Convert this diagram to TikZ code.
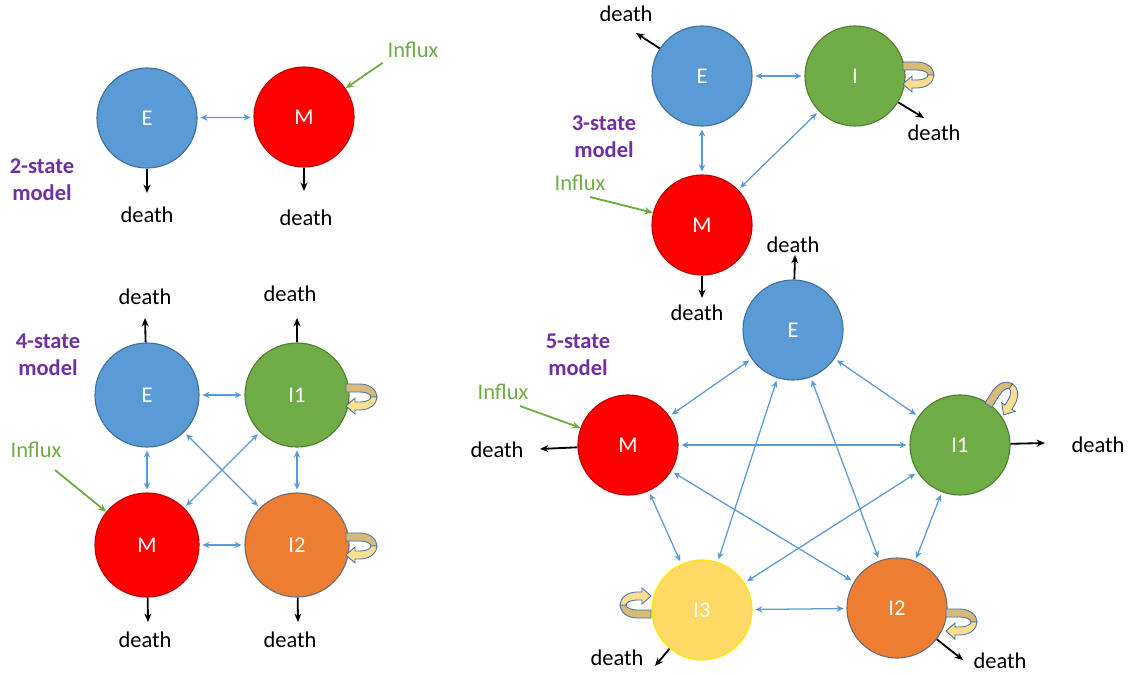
\documentclass[tikz,border=0pt]{standalone}
\usepackage{fontspec}
\setmainfont{Carlito}
\usetikzlibrary{arrows.meta}
\definecolor{eblue}{RGB}{91,155,213}
\definecolor{eline}{RGB}{65,113,156}
\definecolor{mred}{RGB}{255,0,0}
\definecolor{mline}{RGB}{192,0,0}
\definecolor{igreen}{RGB}{112,173,71}
\definecolor{iline}{RGB}{80,126,50}
\definecolor{iorange}{RGB}{237,125,49}
\definecolor{oline}{RGB}{110,110,120}
\definecolor{iyellow}{RGB}{255,217,102}
\definecolor{yline}{RGB}{255,230,0}
\definecolor{modelpurple}{RGB}{112,48,160}
\definecolor{loopdark}{RGB}{214,188,120}
\definecolor{looplight}{RGB}{255,222,145}
\definecolor{loopline}{RGB}{68,114,170}
\tikzset{
  selfloop/.pic={
    \filldraw[fill=loopdark,draw=loopline,line width=0.6pt] (0,13) -- (14,13)
      arc[start angle=90,end angle=0,x radius=17,y radius=13] -- (25,0)
      arc[start angle=0,end angle=90,x radius=11,y radius=5] -- (0,5) -- cycle;
    \filldraw[fill=looplight,draw=loopline,line width=0.6pt] (31,0)
      arc[start angle=0,end angle=-90,x radius=17,y radius=13] -- (9,-13) -- (9,-17)
      -- (0,-9) -- (9,-1) -- (9,-5) -- (14,-5)
      arc[start angle=-90,end angle=0,x radius=11,y radius=5] -- cycle;
  }
}
\begin{document}
\begin{tikzpicture}[x=0.025cm,y=0.025cm,
  state/.style={circle,minimum size=2.5cm,inner sep=0pt,text=white,line width=0.8pt,font=\fontsize{16}{19}\selectfont},
  bigstate/.style={state,minimum size=2.6cm},
  modellabel/.style={align=center,text=modelpurple,font=\fontsize{16}{19}\selectfont\bfseries},
  deathtxt/.style={font=\fontsize{16}{19}\selectfont},
  influxtxt/.style={text=igreen,font=\fontsize{16}{19}\selectfont},
  deathto/.style={-{Stealth[length=6pt,width=5pt]},line width=1.3pt},
  influx/.style={-{Stealth[length=6pt,width=5pt]},igreen,line width=1.3pt},
  both/.style={{Stealth[length=5pt,width=4.5pt]}-{Stealth[length=5pt,width=4.5pt]},eblue,line width=0.9pt,shorten >=2pt,shorten <=2pt}]
\useasboundingbox (0,0) rectangle (1136,-675);

\node[state,fill=eblue,draw=eline] (E2) at (147,-118) {E};
\node[state,fill=mred,draw=mline] (M2) at (304,-117) {M};
\node[modellabel] (lab2) at (42,-180) {2-state\\model};
\node[influxtxt] (inf2) at (413,-50) {Influx};
\node[deathtxt] (E2t) at (147,-215) {death};
\node[deathtxt] (M2t) at (306,-218) {death};
\coordinate (E2d) at (147,-193);
\coordinate (M2d) at (304,-191);
\draw[both] (E2) -- (M2);
\draw[deathto] (E2) -- (E2d);
\draw[deathto] (M2) -- (M2d);
\draw[influx] (inf2.south west) -- (M2);

\node[state,fill=eblue,draw=eline] (E3) at (702,-76) {E};
\node[state,fill=igreen,draw=iline] (I3) at (855,-76) {I};
\node[state,fill=mred,draw=mline] (M3) at (702,-225) {M};
\node[modellabel] (lab3) at (604,-137) {3-state\\model};
\node[influxtxt] (inf3) at (580,-183) {Influx};
\node[deathtxt] (E3t) at (626,-14) {death};
\node[deathtxt] (I3t) at (934,-133) {death};
\node[deathtxt] (M3t) at (697,-313) {death};
\coordinate (E3d) at (636,-33);
\coordinate (I3d) at (924,-118);
\coordinate (M3d) at (702,-298);
\coordinate (inf3s) at (590,-197);
\draw[both] (E3) -- (I3);
\draw[both] (E3) -- (M3);
\draw[both] (M3) -- (I3);
\draw[deathto] (E3) -- (E3d);
\draw[deathto] (I3) -- (I3d);
\draw[deathto] (M3) -- (M3d);
\draw[influx] (inf3s) -- (M3);
\pic at (903,-75) {selfloop};

\node[bigstate,fill=eblue,draw=eline] (E4) at (147,-395) {E};
\node[bigstate,fill=igreen,draw=iline] (I14) at (297,-395) {I1};
\node[bigstate,fill=mred,draw=mline] (M4) at (147,-545) {M};
\node[bigstate,fill=iorange,draw=oline] (I24) at (297,-545) {I2};
\node[modellabel] (lab4) at (48,-355) {4-state\\model};
\node[influxtxt] (inf4) at (36,-450) {Influx};
\node[deathtxt] (E4t) at (145,-297) {death};
\node[deathtxt] (I14t) at (290,-294) {death};
\node[deathtxt] (M4t) at (145,-640) {death};
\node[deathtxt] (I24t) at (290,-640) {death};
\coordinate (E4d) at (145,-318);
\coordinate (I14d) at (297,-318);
\coordinate (M4d) at (148,-622);
\coordinate (I24d) at (298,-622);
\coordinate (inf4s) at (55,-470);
\draw[both] (E4) -- (I14);
\draw[both] (E4) -- (M4);
\draw[both] (E4) -- (I24);
\draw[both] (I14) -- (M4);
\draw[both] (I14) -- (I24);
\draw[both] (M4) -- (I24);
\draw[deathto] (E4) -- (E4d);
\draw[deathto] (I14) -- (I14d);
\draw[deathto] (M4) -- (M4d);
\draw[deathto] (I24) -- (I24d);
\draw[influx] (inf4s) -- (M4);
\pic at (346,-397) {selfloop};
\pic at (346,-546) {selfloop};

\node[state,fill=eblue,draw=eline] (E5) at (793,-330) {E};
\node[state,fill=mred,draw=mline] (M5) at (628,-445) {M};
\node[state,fill=igreen,draw=iline] (I15) at (960,-445) {I1};
\node[state,fill=iyellow,draw=yline] (I35) at (702,-610) {I3};
\node[state,fill=iorange,draw=oline] (I25) at (897,-608) {I2};
\node[modellabel] (lab5) at (578,-355) {5-state\\model};
\node[influxtxt] (inf5) at (503,-392) {Influx};
\node[deathtxt] (E5t) at (793,-245) {death};
\node[deathtxt] (M5t) at (497,-450) {death};
\node[deathtxt] (I15t) at (1098,-445) {death};
\node[deathtxt] (I35t) at (617,-658) {death};
\node[deathtxt] (I25t) at (1000,-661) {death};
\coordinate (E5d) at (795,-255);
\coordinate (M5d) at (540,-449);
\coordinate (I15d) at (1045,-443);
\coordinate (I35d) at (655,-666);
\coordinate (I25d) at (963,-660);
\coordinate (inf5s) at (520,-406);
\draw[both] (E5) -- (M5);
\draw[both] (E5) -- (I15);
\draw[both] (E5) -- (I35);
\draw[both] (E5) -- (I25);
\draw[both] (M5) -- (I15);
\draw[both] (M5) -- (I35);
\draw[both] (M5) -- (I25);
\draw[both] (I15) -- (I35);
\draw[both] (I15) -- (I25);
\draw[both] (I35) -- (I25);
\draw[deathto] (E5) -- (E5d);
\draw[deathto] (M5) -- (M5d);
\draw[deathto] (I15) -- (I15d);
\draw[deathto] (I35) -- (I35d);
\draw[deathto] (I25) -- (I25d);
\draw[influx] (inf5s) -- (M5);
\pic[rotate=58] at (996,-410) {selfloop};
\pic[rotate=180] at (651,-605) {selfloop};
\pic at (946,-622) {selfloop};
\end{tikzpicture}
\end{document}
